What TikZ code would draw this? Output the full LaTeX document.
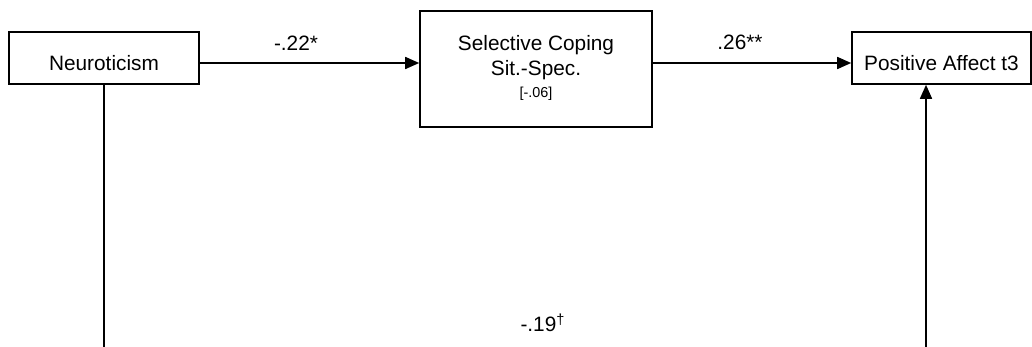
\documentclass[tikz,border=0pt]{standalone}
\usepackage{fontspec}
\setmainfont{Liberation Sans}
\usetikzlibrary{arrows.meta}
\begin{document}
\begin{tikzpicture}[x=0.5pt,y=-0.5pt,
  box/.style={draw=black,line width=0.8pt,fill=white,inner sep=0pt,
    font=\fontsize{10.4}{12}\selectfont,text height=14pt,text depth=1.6pt},
  conn/.style={line width=0.8pt,draw=black},
  arr/.style={conn,-{Triangle[length=7pt,width=6pt]}},
  lab/.style={inner sep=0pt,font=\fontsize{10.4}{12}\selectfont},
  line/.style={inner sep=0pt,text height=7.5pt,text depth=0pt,font=\fontsize{10.4}{12}\selectfont}]
\useasboundingbox (0,0) rectangle (1032,347);
% boxes
\node[box,minimum width=95pt,minimum height=26pt] (neu) at (104,58) {Neuroticism};
\node[box,minimum width=116pt,minimum height=58pt,text height=0pt,text depth=0pt] (sel) at (536,69) {};
\node[line] (sel1) at (536,43) {Selective Coping};
\node[line] (sel2) at (536,68) {Sit.-Spec.};
\node[line,font=\fontsize{7.2}{8}\selectfont,text height=5.2pt] (sel3) at (536,92) {[-.06]};
\node[box,minimum width=89.5pt,minimum height=26pt] (pa) at (941.5,58) {Positive Affect t3};
% connectors
\draw[arr] ([yshift=-2.5pt]neu.east) -- ([yshift=3pt]sel.west);
\draw[arr] ([yshift=3pt]sel.east) -- ([yshift=-2.5pt]pa.west);
\coordinate (bl) at (104,348);
\coordinate (br) at (926,348);
\draw[conn] (neu.south) -- (bl);
\draw[arr] (br) -- (br |- pa.south);
% labels
\node[lab] (l1) at (296,43) {-.22*};
\node[lab] (l2) at (740,42) {.26**};
\node[lab] (l3) at (543,323) {-.19\textsuperscript{†}};
\end{tikzpicture}
\end{document}
